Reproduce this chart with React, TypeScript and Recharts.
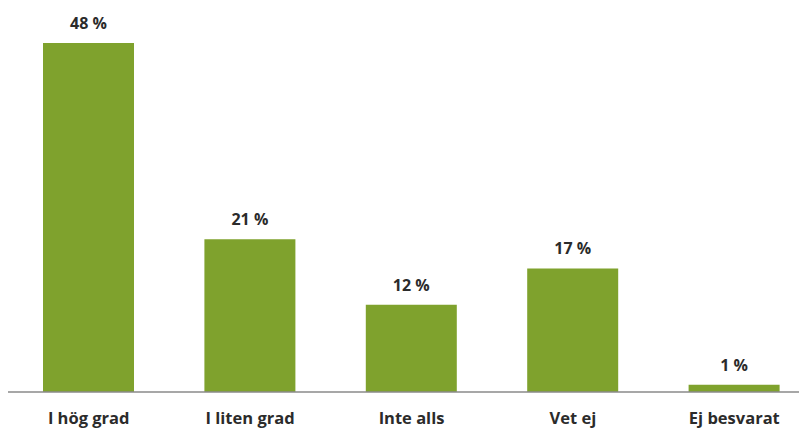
import React from 'react';
import { BarChart, Bar, XAxis, YAxis, LabelList } from 'recharts';

const categories = ['I hög grad', 'I liten grad', 'Inte alls', 'Vet ej', 'Ej besvarat'];
const values = [48, 21, 12, 17, 1];

const data = categories.map((c, i) => ({ name: c, value: values[i] }));

export default function App() {
  return (
    <div style={{ width: 799, height: 420, overflow: 'hidden' }}>
      <BarChart
        width={807}
        height={420}
        data={data}
        margin={{ top: 35, right: 0, left: 0, bottom: 0 }}
      >
        <XAxis
          dataKey="name"
          height={36}
          axisLine={{ stroke: '#8a8a8a', strokeWidth: 1.5 }}
          tickLine={false}
          interval={0}
          tick={{ fill: '#2b2b2b', fontSize: 16.5, fontWeight: 700, fontFamily: 'Open Sans' }}
          tickMargin={14}
        />
        <YAxis hide domain={[0, 48]} />
        <Bar dataKey="value" fill="#7fa22d" barSize={91} isAnimationActive={false}>
          <LabelList
            dataKey="value"
            position="top"
            offset={14}
            formatter={(v: number) => `${v} %`}
            style={{ fill: '#2b2b2b', fontSize: 16, fontWeight: 700, fontFamily: 'Open Sans' }}
          />
        </Bar>
      </BarChart>
    </div>
  );
}
